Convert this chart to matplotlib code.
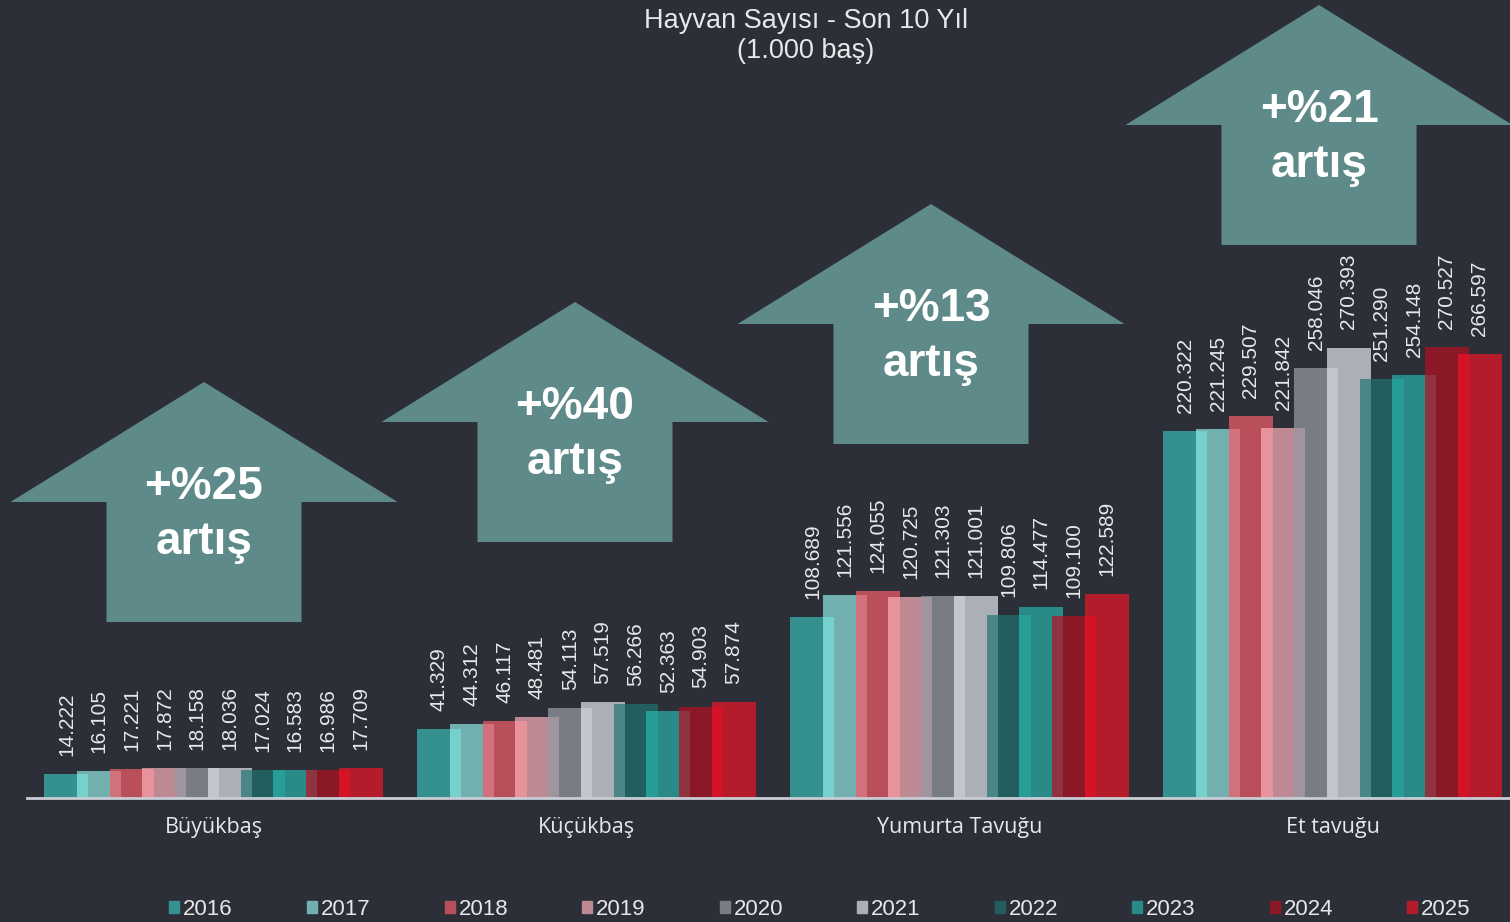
import matplotlib.pyplot as plt
from matplotlib.patches import Polygon, Patch

categories = ['Büyükbaş', 'Küçükbaş', 'Yumurta Tavuğu', 'Et tavuğu']
years = ['2016', '2017', '2018', '2019', '2020', '2021', '2022', '2023', '2024', '2025']
# 1.000 bas, one row per category, one value per year
buyukbas = [14.222, 16.105, 17.221, 17.872, 18.158, 18.036, 17.024, 16.583, 16.986, 17.709]
kucukbas = [41.329, 44.312, 46.117, 48.481, 54.113, 57.519, 56.266, 52.363, 54.903, 57.874]
yumurta = [108.689, 121.556, 124.055, 120.725, 121.303, 121.001, 109.806, 114.477, 109.100, 122.589]
et_tavugu = [220.322, 221.245, 229.507, 221.842, 258.046, 270.393, 251.290, 254.148, 270.527, 266.597]
values = [buyukbas, kucukbas, yumurta, et_tavugu]

bar_colors = ['#35918f', '#72b0b0', '#b84f5a', '#bd8a93', '#787c85',
              '#abafb7', '#235e5e', '#2a8a88', '#8b1827', '#b41b2b']
# colour where a bar covers the one before it
overlap_colors = [None, '#76d0cc', '#d0717b', '#e8929b', '#a0959e',
                  '#c2c6cf', '#4a8686', '#269d97', '#8f3340', '#d41426']

bg = '#2c2f37'
txt = '#e8e8ea'
arrow_color = '#5f8a8a'

W, H = 1510, 922
fig = plt.figure(figsize=(W / 100, H / 100), dpi=100, facecolor=bg)

# main axes: baseline at y=798px, x units = one category per 373px
ax = fig.add_axes([27 / W, 124 / H, 4 * 373 / W, 798 / H])
ax.patch.set_visible(False)
ax.set_xlim(-0.5, 3.5)
ax.set_ylim(0, 479)

step = 32.67 / 373
width = 44 / 373

for g, vals in enumerate(values):
    lefts = [g + (i - 4.5) * step - width / 2 for i in range(len(vals))]
    for i, v in enumerate(vals):
        ax.bar(lefts[i], v, width=width, align='edge', color=bar_colors[i], linewidth=0)
        if i > 0:
            ov_w = lefts[i - 1] + width - lefts[i]
            ax.bar(lefts[i], min(v, vals[i - 1]), width=ov_w, align='edge',
                   color=overlap_colors[i], linewidth=0)
    for i, v in enumerate(vals):
        ax.annotate(f'{v:.3f}', (lefts[i] + width / 2, v), xytext=(0, 13),
                    textcoords='offset points', rotation=90, ha='center', va='bottom',
                    color=txt, fontsize=15, family='Liberation Sans')

for s in ['top', 'right', 'left']:
    ax.spines[s].set_visible(False)
ax.spines['bottom'].set_color('#c8ccd4')
ax.spines['bottom'].set_linewidth(2)
ax.set_yticks([])
ax.set_xticks(range(len(categories)))
ax.set_xticklabels(categories, color=txt, fontsize=15.5, family='Open Sans')
ax.tick_params(axis='x', length=0, pad=14)

# overlay in pixel coordinates for the arrows
ov = fig.add_axes([0, 0, 1, 1], zorder=-1)
ov.set_xlim(0, W)
ov.set_ylim(H, 0)
ov.axis('off')

arrow_pos = [(204, 382), (575, 302), (931, 204), (1319, 5)]
for (cx, ty), vals in zip(arrow_pos, values):
    hw, hh, sw, sh = 193.5, 120, 97.5, 120
    pts = [(cx, ty), (cx + hw, ty + hh), (cx + sw, ty + hh), (cx + sw, ty + hh + sh),
           (cx - sw, ty + hh + sh), (cx - sw, ty + hh), (cx - hw, ty + hh)]
    ov.add_patch(Polygon(pts, closed=True, color=arrow_color, linewidth=0))
    pct = round((vals[-1] / vals[0] - 1) * 100)
    ov.text(cx, ty + 117, f'+%{pct}', ha='center', va='baseline', color='white',
            fontsize=33, fontweight='bold', family='Liberation Sans')
    ov.text(cx, ty + 172, 'artış', ha='center', va='baseline', color='white',
            fontsize=33, fontweight='bold', family='Liberation Sans')

fig.text(806 / W, 1 - 21 / H, 'Hayvan Sayısı - Son 10 Yıl', ha='center', va='center',
         color=txt, fontsize=19.5, family='Liberation Sans')
fig.text(806 / W, 1 - 51 / H, '(1.000 baş)', ha='center', va='center',
         color=txt, fontsize=19.5, family='Liberation Sans')

handles = [Patch(color=c, label=y) for c, y in zip(bar_colors, years)]
leg = fig.legend(handles=handles, loc='center', ncol=10, bbox_to_anchor=(820 / W, 1 - 909 / H),
                 frameon=False, handlelength=0.45, handleheight=0.45, handletextpad=0.18,
                 columnspacing=3.33, prop={'family': 'Liberation Sans', 'size': 16})
for t in leg.get_texts():
    t.set_color(txt)

fig.savefig('out.png', dpi=100, facecolor=bg)
